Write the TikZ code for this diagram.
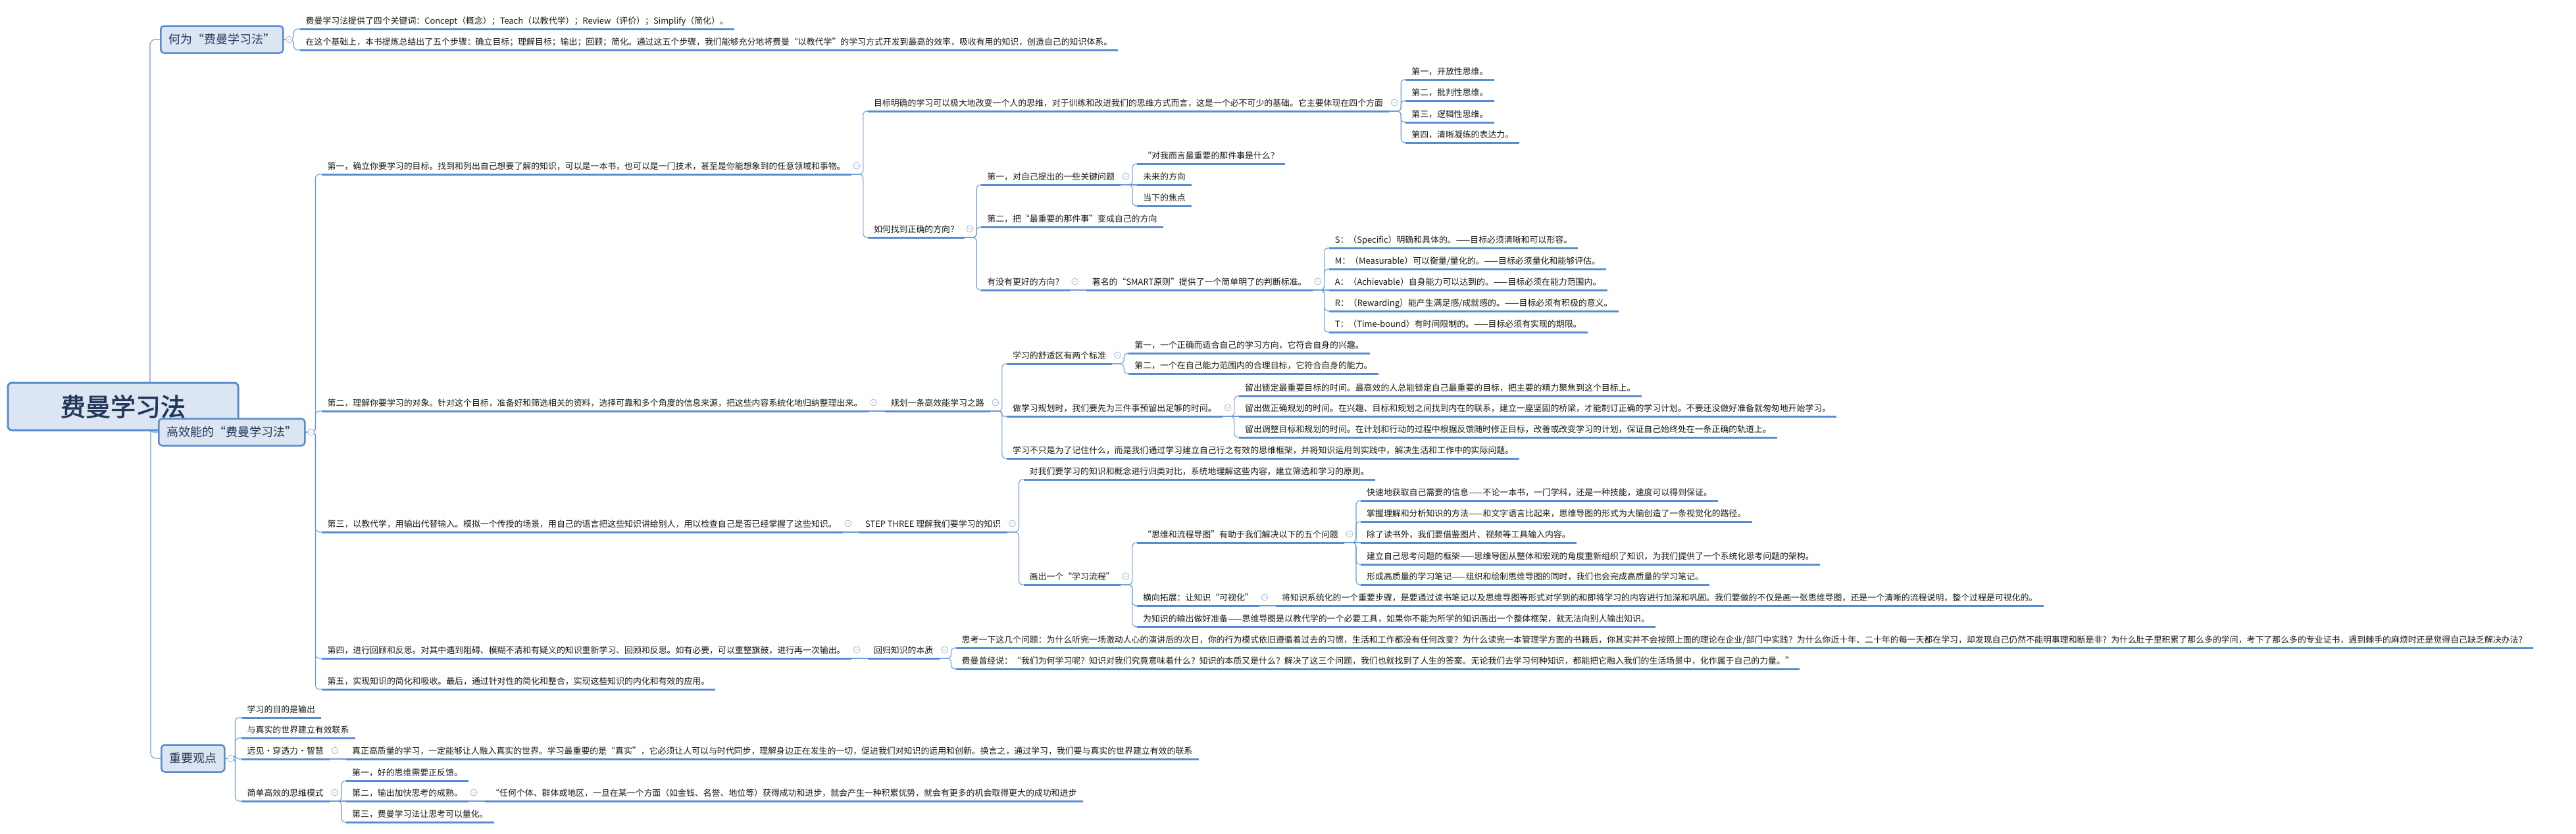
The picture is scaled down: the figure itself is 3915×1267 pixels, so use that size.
\documentclass[tikz,border=0pt]{standalone}
\usepackage{fontspec}
\setmainfont{Noto Sans CJK SC}
\newfontfamily\rootfam{Noto Sans CJK SC}[FakeBold=2]
\usetikzlibrary{backgrounds}
\definecolor{ulblue}{RGB}{88,140,210}
\definecolor{lnblue}{RGB}{110,155,215}
\definecolor{boxfill}{RGB}{220,230,242}
\definecolor{boxtext}{RGB}{35,55,90}
\definecolor{cgray}{RGB}{165,182,210}
\definecolor{tblack}{RGB}{25,25,25}
\newcommand{\topicfnt}{\fontsize{12.9pt}{15pt}\selectfont}
\newcommand{\boxfnt}{\fontsize{18pt}{21pt}\selectfont}
\newcommand{\rootfnt}{\rootfam\fontsize{38pt}{42pt}\selectfont}
\tikzset{
  topic/.style={anchor=south west, font=\topicfnt, text=tblack, inner xsep=9pt, inner ysep=4pt, text height=10pt, text depth=3pt},
  uline/.style={draw=ulblue, line width=3pt},
  conn/.style={draw=lnblue, line width=1.1pt, rounded corners=6pt},
  lvone/.style={draw=ulblue, fill=boxfill, line width=2.5pt, rounded corners=5pt, font=\boxfnt, text=boxtext, anchor=west, minimum height=41pt, inner xsep=12pt},
  rootbox/.style={draw=ulblue, fill=boxfill, line width=3pt, rounded corners=6pt, font=\rootfnt, text=boxtext, minimum width=350pt, minimum height=72pt},
  ccirc/.style={draw=cgray, fill=white, line width=0.8pt}
}
\newcommand{\mmkid}[4]{%
  \node[topic, xshift=25pt] (#2) at (#1.south east |- 0,#3) {#4};
  \draw[uline] (#2.south west) -- (#2.south east);
  \begin{pgfonlayer}{background}
    \draw[conn] (#1.south east) -| ([xshift=-7pt]#2.south west) -- (#2.south west);
  \end{pgfonlayer}}
\newcommand{\mmkidS}[4]{%
  \node[topic, xshift=25pt] (#2) at (#1.south east |- 0,#3) {#4};
  \draw[uline] (#2.south west) -- (#2.south east);
  \begin{pgfonlayer}{background}
    \draw[conn] (#1.south east) -- (#2.south west);
  \end{pgfonlayer}}
\newcommand{\mmbkid}[4]{%
  \node[topic, xshift=24pt] (#2) at (#1.east |- 0,#3) {#4};
  \draw[uline] (#2.south west) -- (#2.south east);
  \begin{pgfonlayer}{background}
    \draw[conn] (#1.east) -| ([xshift=-9pt]#2.south west) -- (#2.south west);
  \end{pgfonlayer}}
\newcommand{\cc}[1]{\draw[ccirc] ([shift={(8pt,13pt)}]#1.south east) circle[radius=5pt] ++(-2.6pt,0pt) -- ++(5.2pt,0pt);}
\newcommand{\ccb}[1]{\draw[ccirc] ([xshift=8pt]#1.east) circle[radius=5pt] ++(-2.6pt,0pt) -- ++(5.2pt,0pt);}
\begin{document}
\begin{tikzpicture}[x=1pt,y=-1pt]
\useasboundingbox (0,0) rectangle (3915,1267);
\begin{pgfonlayer}{background}\fill[white] (0,0) rectangle (3915,1267);\end{pgfonlayer}

\node[rootbox] (root) at (187,618) {费曼学习法};
\node[lvone] (B1) at (243,60) {何为“费曼学习法”};
\node[lvone] (B2) at (240,657) {高效能的“费曼学习法”};
\node[lvone] (B3) at (244,1153) {重要观点};
\begin{pgfonlayer}{background}
\foreach \b in {B1,B2,B3} \draw[conn, rounded corners=8pt] (root.center) -| ([xshift=-15pt]\b.west) -- (\b.west);
\end{pgfonlayer}

% ---- 何为
\mmbkid{B1}{t11}{44}{费曼学习法提供了四个关键词：Concept（概念）；Teach（以教代学）；Review（评价）；Simplify（简化）。}
\mmbkid{B1}{t12}{76}{在这个基础上，本书提炼总结出了五个步骤：确立目标；理解目标；输出；回顾；简化。通过这五个步骤，我们能够充分地将费曼“以教代学”的学习方式开发到最高的效率，吸收有用的知识，创造自己的知识体系。}
\ccb{B1}

% ---- 高效能
\mmbkid{B2}{a1}{265}{第一，确立你要学习的目标。找到和列出自己想要了解的知识，可以是一本书，也可以是一门技术，甚至是你能想象到的任意领域和事物。}
\mmkid{a1}{a11}{169}{目标明确的学习可以极大地改变一个人的思维，对于训练和改进我们的思维方式而言，这是一个必不可少的基础。它主要体现在四个方面}
\mmkid{a11}{a111}{121}{第一，开放性思维。}
\mmkid{a11}{a112}{153}{第二，批判性思维。}
\mmkid{a11}{a113}{186}{第三，逻辑性思维。}
\mmkid{a11}{a114}{217}{第四，清晰凝练的表达力。}
\mmkid{a1}{a12}{361}{如何找到正确的方向？}
\mmkid{a12}{a121}{281}{第一，对自己提出的一些关键问题}
\mmkid{a121}{a1211}{249}{“对我而言最重要的那件事是什么？}
\mmkidS{a121}{a1212}{281}{未来的方向}
\mmkid{a121}{a1213}{313}{当下的焦点}
\mmkid{a12}{a122}{345}{第二，把“最重要的那件事”变成自己的方向}
\mmkid{a12}{a123}{441}{有没有更好的方向？}
\mmkidS{a123}{a1231}{441}{著名的“SMART原则”提供了一个简单明了的判断标准。}
\mmkid{a1231}{s1}{377}{S：（Specific）明确和具体的。——目标必须清晰和可以形容。}
\mmkid{a1231}{s2}{409}{M：（Measurable）可以衡量/量化的。——目标必须量化和能够评估。}
\mmkidS{a1231}{s3}{441}{A：（Achievable）自身能力可以达到的。——目标必须在能力范围内。}
\mmkid{a1231}{s4}{473}{R：（Rewarding）能产生满足感/成就感的。——目标必须有积极的意义。}
\mmkid{a1231}{s5}{505}{T：（Time-bound）有时间限制的。——目标必须有实现的期限。}
\cc{a1}\cc{a11}\cc{a12}\cc{a121}\cc{a123}\cc{a1231}

\mmbkid{B2}{a2}{625}{第二，理解你要学习的对象。针对这个目标，准备好和筛选相关的资料，选择可靠和多个角度的信息来源，把这些内容系统化地归纳整理出来。}
\mmkidS{a2}{a21}{625}{规划一条高效能学习之路}
\mmkid{a21}{a211}{553}{学习的舒适区有两个标准}
\mmkid{a211}{a2111}{537}{第一，一个正确而适合自己的学习方向，它符合自身的兴趣。}
\mmkid{a211}{a2112}{568}{第二，一个在自己能力范围内的合理目标，它符合自身的能力。}
\node[topic, xshift=25pt] (a212) at (a21.south east |- 0,633) {做学习规划时，我们要先为三件事预留出足够的时间。};
\draw[uline] (a212.south west) -- (a212.south east);
\begin{pgfonlayer}{background}
\draw[conn, rounded corners=3pt] (a21.south east) -| ([xshift=-7pt]a212.south west) -- (a212.south west);
\end{pgfonlayer}
\mmkid{a212}{a2121}{602}{留出锁定最重要目标的时间。最高效的人总能锁定自己最重要的目标，把主要的精力聚焦到这个目标上。}
\mmkidS{a212}{a2122}{633}{留出做正确规划的时间。在兴趣、目标和规划之间找到内在的联系，建立一座坚固的桥梁，才能制订正确的学习计划。不要还没做好准备就匆匆地开始学习。}
\mmkid{a212}{a2123}{665}{留出调整目标和规划的时间。在计划和行动的过程中根据反馈随时修正目标，改善或改变学习的计划，保证自己始终处在一条正确的轨道上。}
\mmkid{a21}{a213}{697}{学习不只是为了记住什么，而是我们通过学习建立自己行之有效的思维框架，并将知识运用到实践中，解决生活和工作中的实际问题。}
\cc{a2}\cc{a21}\cc{a211}\cc{a212}

\mmbkid{B2}{a3}{809}{第三，以教代学，用输出代替输入。模拟一个传授的场景，用自己的语言把这些知识讲给别人，用以检查自己是否已经掌握了这些知识。}
\mmkidS{a3}{a31}{809}{STEP THREE 理解我们要学习的知识}
\mmkid{a31}{a311}{729}{对我们要学习的知识和概念进行归类对比，系统地理解这些内容，建立筛选和学习的原则。}
\mmkid{a31}{a312}{889}{画出一个“学习流程”}
\mmkid{a312}{a3121}{825}{“思维和流程导图”有助于我们解决以下的五个问题}
\mmkid{a3121}{m1}{761}{快速地获取自己需要的信息——不论一本书，一门学科，还是一种技能，速度可以得到保证。}
\mmkid{a3121}{m2}{793}{掌握理解和分析知识的方法——和文字语言比起来，思维导图的形式为大脑创造了一条视觉化的路径。}
\mmkidS{a3121}{m3}{825}{除了读书外，我们要借鉴图片、视频等工具输入内容。}
\mmkid{a3121}{m4}{858}{建立自己思考问题的框架——思维导图从整体和宏观的角度重新组织了知识，为我们提供了一个系统化思考问题的架构。}
\mmkid{a3121}{m5}{889}{形成高质量的学习笔记——组织和绘制思维导图的同时，我们也会完成高质量的学习笔记。}
\mmkid{a312}{a3122}{921}{横向拓展：让知识“可视化”}
\mmkidS{a3122}{a31221}{921}{将知识系统化的一个重要步骤，是要通过读书笔记以及思维导图等形式对学到的和即将学习的内容进行加深和巩固。我们要做的不仅是画一张思维导图，还是一个清晰的流程说明，整个过程是可视化的。}
\mmkid{a312}{a3123}{953}{为知识的输出做好准备——思维导图是以教代学的一个必要工具，如果你不能为所学的知识画出一个整体框架，就无法向别人输出知识。}
\cc{a3}\cc{a31}\cc{a312}\cc{a3121}\cc{a3122}

\mmbkid{B2}{a4}{1001}{第四，进行回顾和反思。对其中遇到阻碍、模糊不清和有疑义的知识重新学习、回顾和反思。如有必要，可以重整旗鼓，进行再一次输出。}
\mmkidS{a4}{a41}{1001}{回归知识的本质}
\mmkid{a41}{a411}{985}{思考一下这几个问题：为什么听完一场激动人心的演讲后的次日，你的行为模式依旧遵循着过去的习惯，生活和工作都没有任何改变？为什么读完一本管理学方面的书籍后，你其实并不会按照上面的理论在企业/部门中实践？为什么你近十年、二十年的每一天都在学习，却发现自己仍然不能明事理和断是非？为什么肚子里积累了那么多的学问，考下了那么多的专业证书，遇到棘手的麻烦时还是觉得自己缺乏解决办法？}
\mmkid{a41}{a412}{1017}{费曼曾经说：“我们为何学习呢？知识对我们究竟意味着什么？知识的本质又是什么？解决了这三个问题，我们也就找到了人生的答案。无论我们去学习何种知识，都能把它融入我们的生活场景中，化作属于自己的力量。”}
\cc{a4}\cc{a41}
\mmbkid{B2}{a5}{1048}{第五，实现知识的简化和吸收。最后，通过针对性的简化和整合，实现这些知识的内化和有效的应用。}
\ccb{B2}

% ---- 重要观点
\mmbkid{B3}{c1}{1091}{学习的目的是输出}
\mmbkid{B3}{c2}{1122}{与真实的世界建立有效联系}
\mmbkid{B3}{c3}{1154}{远见·穿透力·智慧}
\mmkidS{c3}{c31}{1154}{真正高质量的学习，一定能够让人融入真实的世界。学习最重要的是“真实”，它必须让人可以与时代同步，理解身边正在发生的一切，促进我们对知识的运用和创新。换言之，通过学习，我们要与真实的世界建立有效的联系}
\mmbkid{B3}{c4}{1218}{简单高效的思维模式}
\mmkid{c4}{c41}{1187}{第一，好的思维需要正反馈。}
\mmkidS{c4}{c42}{1218}{第二，输出加快思考的成熟。}
\mmkidS{c42}{c421}{1218}{“任何个体、群体或地区，一旦在某一个方面（如金钱、名誉、地位等）获得成功和进步，就会产生一种积累优势，就会有更多的机会取得更大的成功和进步}
\mmkid{c4}{c43}{1250}{第三，费曼学习法让思考可以量化。}
\cc{c3}\cc{c4}\cc{c42}
\ccb{B3}
\end{tikzpicture}
\end{document}
